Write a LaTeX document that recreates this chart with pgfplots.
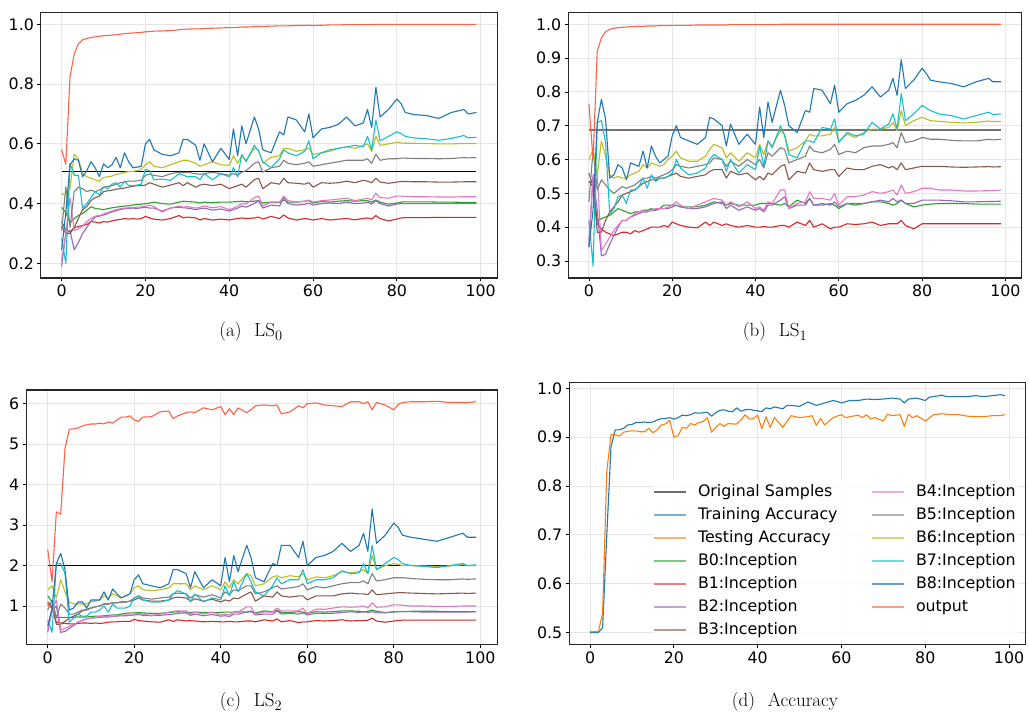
\documentclass[border=0pt]{standalone}
\usepackage{pgfplots}
\pgfplotsset{compat=1.18}
\usepackage{pgfplotstable}
\usepackage{fontspec}
\newfontfamily\dejavu{DejaVu Sans}
\definecolor{cB0}{HTML}{2CA02C}
\definecolor{cB1}{HTML}{D62728}
\definecolor{cB2}{HTML}{9467BD}
\definecolor{cB3}{HTML}{8C564B}
\definecolor{cB4}{HTML}{E377C2}
\definecolor{cB5}{HTML}{7F7F7F}
\definecolor{cB6}{HTML}{BCBD22}
\definecolor{cB7}{HTML}{17BECF}
\definecolor{cB8}{HTML}{1F77B4}
\definecolor{cOut}{HTML}{FF6347}
\definecolor{cTr}{HTML}{1F77B4}
\definecolor{cTe}{HTML}{FF7F0E}
\definecolor{lOrig}{HTML}{6F6F6F}
\definecolor{lTr}{HTML}{79ADD2}
\definecolor{lTe}{HTML}{FFB26E}
\definecolor{lB0}{HTML}{80C680}
\definecolor{lB1}{HTML}{E67D7E}
\definecolor{lB2}{HTML}{BEA4D7}
\definecolor{lB3}{HTML}{BA9A93}
\definecolor{lB4}{HTML}{EEADDA}
\definecolor{lB5}{HTML}{B2B2B2}
\definecolor{lB6}{HTML}{D7D77A}
\definecolor{lB7}{HTML}{74D8E2}
\definecolor{lB8}{HTML}{6A9FC9}
\definecolor{lOut}{HTML}{FF9A88}

\pgfplotstableread{
x B0 B1 B2 B3 B4 B5 B6 B7 B8 OUT
0 0.387 0.340 0.190 0.325 0.210 0.310 0.435 0.283 0.245 0.581
1 0.370 0.312 0.300 0.300 0.300 0.456 0.425 0.200 0.370 0.531
2 0.335 0.305 0.310 0.300 0.420 0.320 0.450 0.535 0.530 0.825
3 0.350 0.320 0.245 0.320 0.310 0.440 0.565 0.495 0.550 0.900
4 0.360 0.323 0.270 0.350 0.315 0.455 0.550 0.495 0.545 0.935
5 0.367 0.327 0.300 0.380 0.325 0.450 0.500 0.385 0.490 0.948
6 0.378 0.330 0.320 0.390 0.340 0.440 0.490 0.400 0.510 0.953
7 0.389 0.340 0.340 0.410 0.350 0.445 0.485 0.420 0.540 0.956
8 0.384 0.338 0.355 0.420 0.358 0.440 0.480 0.440 0.520 0.958
9 0.382 0.335 0.358 0.425 0.360 0.445 0.475 0.430 0.490 0.960
10 0.380 0.340 0.362 0.440 0.365 0.455 0.487 0.455 0.533 0.962
11 0.383 0.338 0.367 0.443 0.370 0.458 0.490 0.450 0.520 0.963
12 0.386 0.342 0.372 0.445 0.375 0.460 0.492 0.465 0.530 0.964
13 0.388 0.345 0.376 0.448 0.380 0.465 0.498 0.470 0.555 0.965
14 0.390 0.347 0.380 0.450 0.383 0.470 0.500 0.455 0.520 0.967
15 0.392 0.350 0.383 0.452 0.385 0.472 0.505 0.475 0.570 0.969
16 0.393 0.348 0.384 0.455 0.386 0.475 0.507 0.460 0.540 0.970
17 0.395 0.350 0.385 0.458 0.387 0.475 0.508 0.460 0.520 0.971
18 0.397 0.348 0.384 0.460 0.388 0.476 0.510 0.462 0.522 0.972
19 0.398 0.350 0.386 0.460 0.389 0.478 0.515 0.465 0.525 0.973
20 0.400 0.357 0.388 0.462 0.392 0.495 0.530 0.515 0.600 0.975
21 0.402 0.352 0.385 0.470 0.395 0.498 0.540 0.510 0.615 0.976
22 0.405 0.348 0.385 0.465 0.390 0.495 0.525 0.480 0.580 0.977
24 0.400 0.345 0.375 0.455 0.372 0.490 0.520 0.482 0.565 0.978
26 0.398 0.350 0.385 0.462 0.385 0.500 0.530 0.478 0.560 0.979
28 0.405 0.360 0.388 0.470 0.392 0.505 0.540 0.500 0.570 0.982
29 0.408 0.352 0.386 0.460 0.388 0.503 0.545 0.495 0.615 0.983
30 0.407 0.355 0.385 0.470 0.390 0.505 0.545 0.490 0.615 0.984
32 0.405 0.352 0.380 0.455 0.385 0.500 0.535 0.490 0.595 0.985
33 0.402 0.345 0.383 0.462 0.388 0.498 0.525 0.480 0.545 0.985
34 0.405 0.350 0.385 0.465 0.392 0.500 0.530 0.500 0.600 0.986
36 0.403 0.345 0.378 0.460 0.386 0.505 0.540 0.480 0.540 0.987
38 0.405 0.348 0.382 0.465 0.390 0.500 0.530 0.500 0.585 0.988
40 0.405 0.345 0.375 0.450 0.380 0.495 0.528 0.490 0.548 0.989
41 0.406 0.348 0.380 0.455 0.385 0.500 0.560 0.520 0.650 0.989
42 0.407 0.350 0.385 0.460 0.392 0.495 0.535 0.490 0.560 0.990
43 0.408 0.352 0.392 0.465 0.400 0.505 0.560 0.565 0.660 0.991
44 0.406 0.350 0.388 0.455 0.398 0.510 0.545 0.540 0.600 0.991
46 0.408 0.352 0.400 0.480 0.420 0.535 0.585 0.595 0.690 0.992
47 0.410 0.355 0.410 0.485 0.425 0.540 0.580 0.575 0.650 0.993
48 0.402 0.348 0.385 0.450 0.392 0.505 0.535 0.540 0.580 0.993
50 0.405 0.357 0.395 0.470 0.405 0.520 0.555 0.520 0.570 0.994
52 0.404 0.350 0.392 0.465 0.405 0.525 0.560 0.550 0.640 0.995
53 0.412 0.362 0.420 0.485 0.425 0.545 0.585 0.580 0.630 0.995
54 0.405 0.352 0.400 0.470 0.410 0.535 0.585 0.570 0.690 0.995
56 0.405 0.345 0.395 0.468 0.405 0.530 0.575 0.560 0.680 0.996
58 0.408 0.350 0.398 0.465 0.408 0.535 0.580 0.575 0.640 0.996
59 0.410 0.348 0.402 0.470 0.412 0.540 0.585 0.610 0.700 0.997
60 0.402 0.345 0.395 0.455 0.405 0.525 0.565 0.550 0.620 0.996
62 0.407 0.350 0.400 0.470 0.410 0.530 0.570 0.570 0.650 0.997
64 0.405 0.345 0.402 0.468 0.412 0.535 0.575 0.580 0.655 0.998
66 0.408 0.348 0.400 0.470 0.415 0.540 0.585 0.585 0.665 0.998
68 0.410 0.350 0.405 0.475 0.418 0.545 0.590 0.590 0.690 0.999
70 0.408 0.346 0.400 0.470 0.410 0.545 0.585 0.595 0.660 0.999
72 0.410 0.350 0.402 0.478 0.415 0.545 0.595 0.590 0.670 0.999
73 0.410 0.352 0.405 0.475 0.418 0.550 0.600 0.625 0.715 0.999
74 0.405 0.348 0.398 0.470 0.412 0.535 0.575 0.580 0.655 0.999
75 0.412 0.360 0.410 0.485 0.435 0.565 0.625 0.680 0.790 1.000
76 0.405 0.350 0.400 0.472 0.420 0.545 0.595 0.610 0.690 1.000
78 0.398 0.342 0.392 0.468 0.418 0.550 0.600 0.625 0.715 1.000
80 0.402 0.348 0.398 0.472 0.425 0.550 0.605 0.640 0.750 1.000
81 0.405 0.352 0.400 0.474 0.425 0.552 0.603 0.635 0.735 1.000
82 0.406 0.353 0.400 0.474 0.424 0.552 0.602 0.625 0.705 1.000
84 0.406 0.353 0.400 0.473 0.423 0.551 0.602 0.620 0.698 1.000
87 0.406 0.353 0.400 0.473 0.423 0.551 0.601 0.617 0.695 1.000
90 0.405 0.354 0.400 0.472 0.422 0.550 0.600 0.612 0.685 1.000
93 0.405 0.354 0.400 0.472 0.422 0.551 0.600 0.618 0.705 1.000
96 0.404 0.354 0.400 0.473 0.423 0.554 0.601 0.628 0.715 1.000
97 0.404 0.354 0.400 0.473 0.423 0.553 0.601 0.620 0.700 1.000
99 0.404 0.354 0.400 0.473 0.423 0.554 0.601 0.622 0.705 1.000
}\dataA

\pgfplotstableread{
x B0 B1 B2 B3 B4 B5 B6 B7 B8 OUT
0 0.560 0.535 0.340 0.535 0.360 0.475 0.600 0.420 0.342 0.765
1 0.520 0.520 0.550 0.530 0.555 0.628 0.630 0.285 0.450 0.600
2 0.420 0.410 0.450 0.385 0.560 0.510 0.555 0.710 0.710 0.920
3 0.425 0.395 0.315 0.385 0.330 0.540 0.655 0.715 0.778 0.960
4 0.430 0.385 0.320 0.420 0.350 0.525 0.610 0.650 0.720 0.978
5 0.435 0.380 0.350 0.445 0.370 0.510 0.555 0.440 0.545 0.985
6 0.445 0.375 0.375 0.460 0.390 0.500 0.545 0.455 0.555 0.988
7 0.455 0.380 0.400 0.475 0.405 0.510 0.550 0.490 0.585 0.990
8 0.450 0.385 0.420 0.495 0.420 0.520 0.545 0.495 0.575 0.991
9 0.445 0.385 0.420 0.500 0.420 0.515 0.545 0.470 0.540 0.992
10 0.440 0.380 0.430 0.505 0.430 0.520 0.555 0.510 0.590 0.993
11 0.445 0.390 0.435 0.510 0.440 0.525 0.560 0.510 0.585 0.993
12 0.445 0.385 0.440 0.520 0.445 0.535 0.565 0.520 0.580 0.994
13 0.450 0.390 0.445 0.530 0.450 0.545 0.585 0.545 0.625 0.994
14 0.450 0.395 0.445 0.535 0.445 0.545 0.575 0.515 0.575 0.995
15 0.455 0.400 0.450 0.540 0.450 0.550 0.590 0.555 0.640 0.995
16 0.450 0.400 0.450 0.540 0.455 0.545 0.585 0.535 0.610 0.995
17 0.455 0.400 0.455 0.545 0.455 0.550 0.580 0.545 0.590 0.996
18 0.465 0.405 0.455 0.545 0.455 0.555 0.585 0.545 0.600 0.996
19 0.465 0.400 0.455 0.550 0.460 0.560 0.600 0.550 0.610 0.996
20 0.465 0.415 0.460 0.555 0.465 0.570 0.610 0.560 0.670 0.997
21 0.465 0.410 0.465 0.560 0.475 0.585 0.625 0.600 0.700 0.997
22 0.460 0.405 0.460 0.550 0.465 0.580 0.605 0.575 0.665 0.997
24 0.460 0.400 0.455 0.545 0.455 0.575 0.595 0.555 0.655 0.997
26 0.460 0.398 0.455 0.550 0.465 0.580 0.595 0.560 0.645 0.998
28 0.465 0.415 0.460 0.555 0.475 0.585 0.610 0.575 0.665 0.998
29 0.470 0.405 0.465 0.565 0.480 0.590 0.630 0.600 0.725 0.998
30 0.475 0.415 0.470 0.570 0.485 0.605 0.645 0.615 0.720 0.998
32 0.470 0.405 0.475 0.570 0.480 0.600 0.635 0.600 0.700 0.998
33 0.465 0.410 0.455 0.545 0.465 0.580 0.605 0.565 0.640 0.998
34 0.470 0.405 0.465 0.565 0.475 0.595 0.620 0.600 0.705 0.999
36 0.465 0.400 0.450 0.555 0.460 0.580 0.595 0.560 0.645 0.999
38 0.465 0.405 0.460 0.560 0.475 0.600 0.620 0.585 0.675 0.999
40 0.465 0.400 0.450 0.540 0.455 0.585 0.605 0.570 0.645 0.999
41 0.470 0.400 0.455 0.550 0.460 0.600 0.645 0.640 0.755 0.999
42 0.470 0.402 0.445 0.540 0.450 0.575 0.615 0.580 0.665 0.999
43 0.470 0.400 0.465 0.560 0.475 0.620 0.655 0.655 0.770 0.999
44 0.470 0.400 0.465 0.555 0.470 0.610 0.640 0.635 0.710 0.999
46 0.465 0.405 0.480 0.580 0.510 0.635 0.685 0.700 0.805 1.000
47 0.470 0.405 0.490 0.585 0.510 0.630 0.675 0.670 0.760 1.000
48 0.460 0.400 0.455 0.540 0.455 0.590 0.625 0.615 0.700 1.000
50 0.480 0.415 0.465 0.565 0.470 0.600 0.635 0.605 0.680 1.000
52 0.470 0.405 0.465 0.560 0.475 0.610 0.655 0.655 0.745 1.000
53 0.485 0.420 0.485 0.590 0.505 0.640 0.675 0.655 0.740 1.000
54 0.465 0.400 0.465 0.570 0.485 0.625 0.670 0.650 0.810 1.000
56 0.465 0.410 0.470 0.565 0.485 0.620 0.670 0.695 0.805 1.000
58 0.470 0.395 0.465 0.570 0.480 0.630 0.675 0.690 0.765 1.000
59 0.465 0.400 0.475 0.570 0.500 0.645 0.695 0.720 0.820 1.000
60 0.455 0.400 0.460 0.550 0.465 0.615 0.655 0.650 0.740 1.000
62 0.470 0.410 0.470 0.575 0.490 0.625 0.675 0.680 0.765 1.000
64 0.465 0.408 0.470 0.570 0.490 0.620 0.665 0.670 0.775 1.000
66 0.470 0.410 0.470 0.570 0.495 0.635 0.680 0.675 0.790 1.000
68 0.475 0.415 0.475 0.580 0.505 0.640 0.690 0.710 0.815 1.000
70 0.475 0.405 0.480 0.585 0.500 0.640 0.690 0.690 0.785 1.000
72 0.470 0.410 0.475 0.575 0.505 0.645 0.695 0.705 0.805 1.000
73 0.465 0.410 0.485 0.580 0.510 0.650 0.710 0.735 0.840 1.000
74 0.470 0.410 0.475 0.570 0.495 0.635 0.685 0.690 0.790 1.000
75 0.480 0.420 0.480 0.590 0.525 0.680 0.745 0.795 0.895 1.000
76 0.470 0.405 0.470 0.570 0.500 0.650 0.700 0.715 0.810 1.000
78 0.460 0.395 0.470 0.575 0.505 0.655 0.715 0.735 0.835 1.000
80 0.465 0.410 0.480 0.580 0.515 0.665 0.725 0.760 0.870 1.000
81 0.467 0.410 0.480 0.580 0.515 0.663 0.720 0.752 0.855 1.000
82 0.468 0.410 0.480 0.580 0.515 0.660 0.715 0.745 0.835 1.000
84 0.470 0.410 0.480 0.580 0.510 0.660 0.713 0.735 0.830 1.000
87 0.470 0.410 0.478 0.578 0.510 0.657 0.710 0.730 0.825 1.000
90 0.470 0.410 0.475 0.577 0.507 0.655 0.708 0.720 0.815 1.000
93 0.468 0.410 0.475 0.578 0.507 0.655 0.710 0.730 0.830 1.000
96 0.468 0.410 0.476 0.579 0.508 0.660 0.714 0.740 0.840 1.000
97 0.468 0.410 0.476 0.578 0.508 0.658 0.712 0.733 0.830 1.000
99 0.468 0.410 0.477 0.579 0.510 0.660 0.713 0.735 0.830 1.000
}\dataB

\pgfplotstableread{
x B0 B1 B2 B3 B4 B5 B6 B7 B8 OUT
0 1.25 1.05 0.35 1.10 0.40 0.90 1.40 0.65 0.50 2.40
1 1.10 0.95 0.90 1.00 0.90 1.15 1.50 0.35 0.95 1.60
2 0.72 0.60 1.00 0.55 1.15 0.70 1.20 2.05 2.05 3.33
3 0.72 0.58 0.35 0.55 0.40 1.05 1.65 2.05 2.30 3.27
4 0.72 0.57 0.37 0.62 0.45 0.95 1.35 1.80 1.90 4.90
5 0.72 0.56 0.45 0.70 0.50 0.80 1.10 0.60 0.90 5.37
6 0.72 0.56 0.52 0.75 0.55 0.80 1.05 0.70 0.95 5.38
7 0.73 0.57 0.60 0.80 0.60 0.85 1.05 0.80 1.10 5.40
8 0.73 0.58 0.65 0.88 0.65 0.90 1.05 0.75 1.10 5.45
9 0.73 0.58 0.68 0.92 0.68 0.90 1.05 0.75 0.95 5.48
10 0.74 0.57 0.70 0.95 0.70 0.95 1.10 0.85 1.15 5.50
11 0.75 0.58 0.71 0.98 0.72 0.98 1.12 0.85 1.15 5.50
12 0.75 0.57 0.72 1.00 0.73 1.00 1.15 0.90 1.15 5.52
13 0.76 0.58 0.73 1.05 0.75 1.05 1.25 1.00 1.35 5.50
14 0.77 0.60 0.73 1.05 0.75 1.05 1.20 0.85 1.15 5.55
15 0.78 0.61 0.74 1.08 0.75 1.08 1.30 1.05 1.42 5.52
16 0.78 0.61 0.75 1.08 0.76 1.08 1.25 0.95 1.30 5.60
17 0.80 0.62 0.76 1.10 0.77 1.10 1.20 0.95 1.20 5.67
18 0.82 0.62 0.76 1.10 0.78 1.10 1.25 0.95 1.25 5.67
19 0.83 0.62 0.77 1.12 0.78 1.12 1.30 1.00 1.30 5.70
20 0.83 0.67 0.78 1.15 0.80 1.20 1.45 1.20 1.65 5.60
21 0.84 0.64 0.79 1.20 0.82 1.25 1.50 1.25 1.77 5.57
22 0.83 0.63 0.77 1.15 0.80 1.20 1.40 1.15 1.55 5.67
24 0.82 0.61 0.76 1.12 0.77 1.17 1.38 1.10 1.50 5.68
26 0.82 0.60 0.77 1.12 0.80 1.20 1.40 1.10 1.45 5.80
28 0.84 0.66 0.79 1.15 0.85 1.22 1.45 1.15 1.55 5.82
29 0.85 0.62 0.80 1.20 0.87 1.30 1.55 1.30 1.90 5.63
30 0.86 0.66 0.82 1.22 0.88 1.32 1.55 1.38 1.90 5.70
32 0.85 0.63 0.83 1.20 0.88 1.30 1.55 1.30 1.80 5.78
33 0.84 0.64 0.77 1.12 0.80 1.20 1.40 1.10 1.45 5.80
34 0.85 0.63 0.80 1.18 0.85 1.28 1.50 1.30 1.85 5.78
36 0.84 0.61 0.76 1.12 0.80 1.22 1.40 1.10 1.45 5.90
38 0.84 0.62 0.79 1.17 0.85 1.28 1.50 1.20 1.65 5.85
40 0.84 0.61 0.75 1.10 0.78 1.20 1.40 1.15 1.50 5.93
41 0.85 0.61 0.76 1.15 0.80 1.35 1.60 1.50 2.20 5.73
42 0.85 0.62 0.74 1.12 0.78 1.28 1.45 1.25 1.60 5.88
43 0.85 0.61 0.80 1.20 0.85 1.40 1.65 1.60 2.25 5.73
44 0.86 0.61 0.80 1.18 0.85 1.38 1.55 1.35 1.85 5.90
46 0.85 0.63 0.85 1.30 0.98 1.50 1.80 1.80 2.50 5.78
47 0.86 0.63 0.88 1.35 0.98 1.50 1.75 1.60 2.20 5.85
48 0.83 0.61 0.78 1.12 0.80 1.30 1.50 1.35 1.70 5.95
50 0.88 0.66 0.80 1.25 0.85 1.35 1.55 1.25 1.60 5.97
52 0.86 0.63 0.80 1.22 0.85 1.45 1.72 1.50 2.05 5.95
53 0.90 0.68 0.88 1.35 0.95 1.50 1.75 1.70 2.00 5.97
54 0.84 0.61 0.80 1.25 0.88 1.42 1.70 1.55 2.50 5.75
56 0.84 0.64 0.82 1.22 0.88 1.45 1.75 1.65 2.50 5.80
58 0.86 0.59 0.80 1.25 0.88 1.48 1.72 1.65 2.20 5.95
59 0.85 0.61 0.83 1.25 0.95 1.55 1.80 1.90 2.60 5.90
60 0.82 0.61 0.78 1.15 0.82 1.40 1.65 1.55 2.00 6.00
62 0.86 0.64 0.82 1.25 0.92 1.48 1.72 1.65 2.20 6.02
64 0.85 0.63 0.82 1.25 0.92 1.45 1.70 1.65 2.25 5.97
66 0.86 0.64 0.82 1.25 0.95 1.50 1.75 1.70 2.35 5.95
68 0.88 0.66 0.84 1.30 0.98 1.55 1.85 1.87 2.55 5.93
70 0.88 0.63 0.86 1.32 0.97 1.58 1.82 1.80 2.35 6.05
72 0.87 0.64 0.84 1.30 0.98 1.58 1.85 1.82 2.50 6.05
73 0.85 0.64 0.87 1.30 1.00 1.62 1.90 2.05 2.80 6.00
74 0.87 0.65 0.84 1.28 0.95 1.55 1.80 1.80 2.35 6.05
75 0.90 0.70 0.86 1.40 1.08 1.80 2.25 2.50 3.40 5.85
76 0.87 0.63 0.83 1.28 0.97 1.62 1.90 1.90 2.55 6.03
78 0.84 0.60 0.83 1.30 0.98 1.65 2.00 2.05 2.75 5.97
80 0.85 0.63 0.86 1.32 1.03 1.70 2.05 2.20 3.05 5.85
81 0.86 0.64 0.86 1.33 1.03 1.70 2.03 2.15 2.95 5.98
82 0.86 0.65 0.86 1.33 1.02 1.70 2.00 2.05 2.75 6.03
84 0.87 0.65 0.86 1.32 1.00 1.68 2.00 2.00 2.70 6.05
87 0.87 0.65 0.85 1.31 1.00 1.66 1.99 1.98 2.65 6.05
90 0.87 0.65 0.85 1.30 0.99 1.65 1.98 1.95 2.60 6.06
93 0.86 0.65 0.85 1.31 0.99 1.65 1.99 2.00 2.70 6.03
96 0.86 0.65 0.85 1.32 1.00 1.67 2.02 2.05 2.80 6.03
97 0.86 0.65 0.85 1.31 1.00 1.66 2.00 2.00 2.70 6.03
99 0.86 0.65 0.86 1.32 1.00 1.67 2.00 2.02 2.70 6.05
}\dataC

\pgfplotsset{
  panel/.style={
    scale only axis,
    xmin=-4.95, xmax=103.95,
    xtick={0,20,40,60,80,100},
    tick align=outside,
    xtick pos=left, ytick pos=left,
    major tick length=3.5pt,
    tick style={black, line width=0.8pt},
    grid=major,
    major grid style={black!10, line width=0.9pt},
    axis line style={black!85, line width=1.1pt},
    tick label style={font=\dejavu\fontsize{15.8}{16}\selectfont},
    /pgf/number format/assume math mode=true,
    every axis plot/.append style={line width=1.1pt, line join=round, mark=none},
  },
  onedec/.style={yticklabel style={/pgf/number format/.cd, fixed, fixed zerofill, precision=1}},
}

\newcommand{\allseries}[1]{%
  \addplot[cB0] table[x=x,y=B0]{#1};
  \addplot[cB1] table[x=x,y=B1]{#1};
  \addplot[cB2] table[x=x,y=B2]{#1};
  \addplot[cB3] table[x=x,y=B3]{#1};
  \addplot[cB4] table[x=x,y=B4]{#1};
  \addplot[cB5] table[x=x,y=B5]{#1};
  \addplot[cB6] table[x=x,y=B6]{#1};
  \addplot[cB7] table[x=x,y=B7]{#1};
  \addplot[cB8] table[x=x,y=B8]{#1};
  \addplot[cOut] table[x=x,y=OUT]{#1};
}

\begin{document}
\begin{tikzpicture}
\useasboundingbox (0pt,0pt) rectangle (1029pt,717pt);

% (a)
\begin{axis}[panel, onedec, at={(40.9pt,704.3pt)}, anchor=north west,
  width=456.3pt, height=265.3pt, ymin=0.151, ymax=1.039,
  ytick={0.2,0.4,0.6,0.8,1.0}]
  \addplot[black, line width=1.1pt] coordinates {(0,0.508) (99,0.508)};
  \allseries{\dataA}
\end{axis}

% (b)
\begin{axis}[panel, onedec, at={(568.3pt,704.3pt)}, anchor=north west,
  width=453.5pt, height=265.3pt, ymin=0.2497, ymax=1.0343,
  ytick={0.3,0.4,0.5,0.6,0.7,0.8,0.9,1.0}]
  \addplot[black!55, line width=2.4pt] coordinates {(0,0.688) (99,0.688)};
  \allseries{\dataB}
\end{axis}

% (c)
\begin{axis}[panel, at={(26.3pt,327pt)}, anchor=north west,
  width=471.1pt, height=254.3pt, ymin=0.054, ymax=6.34,
  ytick={1,2,3,4,5,6}]
  \addplot[black, line width=1.1pt] coordinates {(0,2.0) (99,2.0)};
  \allseries{\dataC}
  \node[anchor=south west, inner sep=0pt, font=\dejavu\fontsize{6.5}{7}\selectfont]
    at (rel axis cs:0,1) [yshift=2pt] {×10\textsuperscript{4}};
\end{axis}

% (d)
\begin{axis}[panel, onedec, at={(569.3pt,334.3pt)}, anchor=north west,
  width=456.3pt, height=261.6pt, ymin=0.476, ymax=1.0115,
  ytick={0.5,0.6,0.7,0.8,0.9,1.0},
  legend columns=2,
  legend cell align=left,
  legend image code/.code={\draw[#1] (0pt,0pt) -- (32pt,0pt);},
  legend style={at={(rel axis cs:0.184,0.627)}, anchor=north west,
    draw=none, fill=white, fill opacity=0.8, text opacity=1, draw opacity=1,
    inner sep=0pt, outer sep=0pt,
    font=\dejavu\fontsize{15.8}{16}\selectfont,
    nodes={inner sep=3.75pt, text height=12pt, text depth=3.5pt},
    /tikz/every odd column/.append style={column sep=7pt},
    /tikz/every even column/.append style={column sep=30pt}},
  ]
  \addplot[cTr, forget plot] coordinates {(0,0.5)(1,0.5)(2,0.5)(3,0.51)(4,0.70)(5,0.88)(6,0.915)(7,0.915)(8,0.918)(9,0.925)(10,0.926)(11,0.93)(12,0.93)(13,0.931)(14,0.93)(15,0.931)(16,0.935)(17,0.938)(18,0.938)(19,0.94)(20,0.937)(21,0.94)(22,0.945)(23,0.944)(24,0.946)(25,0.95)(26,0.949)(27,0.95)(28,0.951)(29,0.943)(30,0.95)(31,0.955)(32,0.956)(33,0.953)(34,0.952)(35,0.96)(36,0.953)(37,0.956)(38,0.957)(39,0.955)(40,0.954)(41,0.952)(42,0.96)(43,0.958)(44,0.962)(46,0.958)(47,0.965)(48,0.965)(50,0.963)(52,0.972)(54,0.965)(56,0.97)(58,0.975)(59,0.973)(60,0.97)(62,0.975)(64,0.975)(66,0.978)(68,0.977)(70,0.978)(72,0.98)(74,0.978)(75,0.97)(76,0.978)(78,0.98)(80,0.975)(81,0.982)(82,0.983)(84,0.986)(85,0.983)(87,0.983)(90,0.983)(92,0.985)(94,0.983)(96,0.985)(98,0.987)(99,0.985)};
  \addplot[cTe, forget plot] coordinates {(0,0.502)(1,0.502)(2,0.502)(3,0.54)(4,0.83)(5,0.905)(6,0.905)(7,0.902)(8,0.91)(9,0.912)(10,0.913)(11,0.913)(12,0.911)(13,0.911)(14,0.918)(15,0.909)(16,0.915)(17,0.925)(18,0.927)(19,0.935)(20,0.9)(21,0.903)(22,0.92)(23,0.918)(24,0.928)(25,0.925)(26,0.93)(27,0.932)(28,0.94)(29,0.91)(30,0.92)(31,0.928)(32,0.922)(33,0.928)(34,0.927)(35,0.927)(36,0.935)(37,0.946)(38,0.937)(39,0.938)(40,0.945)(41,0.917)(42,0.942)(43,0.92)(44,0.94)(46,0.92)(48,0.944)(50,0.94)(52,0.942)(53,0.944)(54,0.924)(55,0.938)(56,0.925)(58,0.94)(60,0.946)(61,0.94)(62,0.942)(64,0.945)(65,0.94)(66,0.946)(67,0.937)(68,0.94)(70,0.933)(71,0.947)(72,0.944)(74,0.946)(75,0.922)(76,0.947)(77,0.94)(78,0.944)(80,0.933)(82,0.946)(84,0.948)(86,0.946)(88,0.946)(90,0.943)(92,0.942)(94,0.942)(96,0.944)(98,0.944)(99,0.946)};
  \addlegendimage{draw=lOrig, line width=2pt}\addlegendentry{Original Samples}
  \addlegendimage{draw=lB4, line width=2pt}\addlegendentry{B4:Inception}
  \addlegendimage{draw=lTr, line width=2pt}\addlegendentry{Training Accuracy}
  \addlegendimage{draw=lB5, line width=2pt}\addlegendentry{B5:Inception}
  \addlegendimage{draw=lTe, line width=2pt}\addlegendentry{Testing Accuracy}
  \addlegendimage{draw=lB6, line width=2pt}\addlegendentry{B6:Inception}
  \addlegendimage{draw=lB0, line width=2pt}\addlegendentry{B0:Inception}
  \addlegendimage{draw=lB7, line width=2pt}\addlegendentry{B7:Inception}
  \addlegendimage{draw=lB1, line width=2pt}\addlegendentry{B1:Inception}
  \addlegendimage{draw=lB8, line width=2pt}\addlegendentry{B8:Inception}
  \addlegendimage{draw=lB2, line width=2pt}\addlegendentry{B2:Inception}
  \addlegendimage{draw=lOut, line width=2pt}\addlegendentry{output}
  \addlegendimage{draw=lB3, line width=2pt}\addlegendentry{B3:Inception}
\end{axis}

% captions
\node[anchor=base, font=\fontsize{19}{22}\selectfont] at (251pt,380pt) {(a)\hspace{0.68em}LS$_0$};
\node[anchor=base, font=\fontsize{19}{22}\selectfont] at (775pt,380pt) {(b)\hspace{0.68em}LS$_1$};
\node[anchor=base, font=\fontsize{19}{22}\selectfont] at (251pt,10pt) {(c)\hspace{0.68em}LS$_2$};
\node[anchor=base, font=\fontsize{19}{22}\selectfont] at (785pt,10pt) {(d)\hspace{0.68em}Accuracy};
\end{tikzpicture}
\end{document}
